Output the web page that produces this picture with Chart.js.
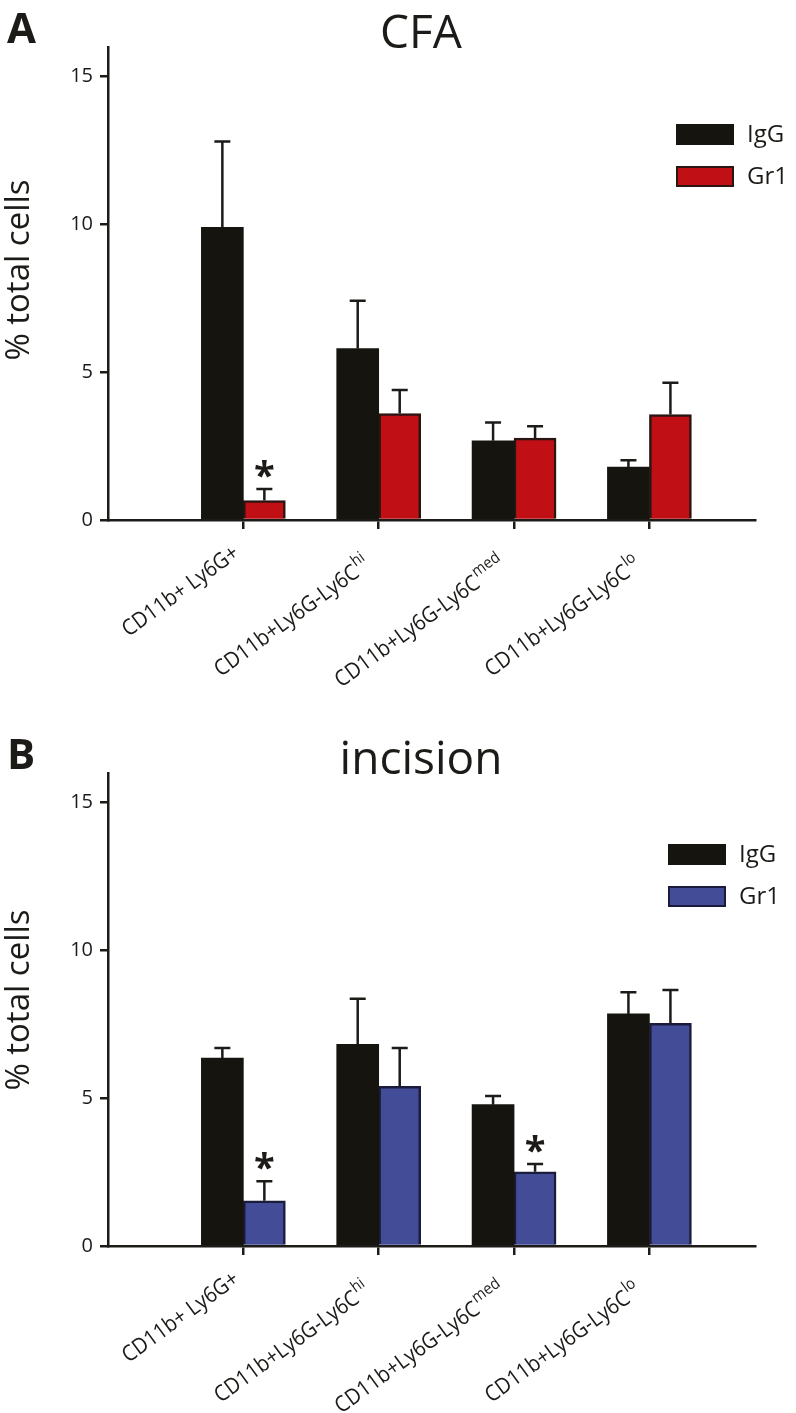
<!DOCTYPE html>
<html>
<head>
<meta charset="utf-8">
<script src="https://cdn.jsdelivr.net/npm/chart.js@4.4.1/dist/chart.umd.min.js"></script>
<style>
    body { margin: 0; background: #fff; }
    .panel { position: relative; width: 796px; }
    #panelA { height: 726px; }
    #panelB { height: 687px; }
</style>
</head>
<body>
<div class="panel" id="panelA"><canvas id="chartA"></canvas></div>
<div class="panel" id="panelB"><canvas id="chartB"></canvas></div>
<script>
// categories (x axis), superscript part of each label
const categories = ["CD11b+ Ly6G+", "CD11b+Ly6G-Ly6C", "CD11b+Ly6G-Ly6C", "CD11b+Ly6G-Ly6C"];
const categorySup = ["", "hi", "med", "lo"];
const seriesNames = ["IgG", "Gr1"];
const yTickValues = [0, 5, 10, 15];

// panel A - CFA (mean, upper SEM)
const cfaIgG = [9.9, 5.8, 2.68, 1.79];
const cfaIgGErr = [2.9, 1.62, 0.62, 0.23];
const cfaGr1 = [0.66, 3.6, 2.77, 3.57];
const cfaGr1Err = [0.39, 0.8, 0.4, 1.07];
const cfaSig = [true, false, false, false];

// panel B - incision
const incIgG = [6.36, 6.82, 4.78, 7.85];
const incIgGErr = [0.34, 1.54, 0.29, 0.73];
const incGr1 = [1.53, 5.4, 2.51, 7.53];
const incGr1Err = [0.66, 1.3, 0.26, 1.13];
const incSig = [true, false, true, false];

const FONT = '"Open Sans", "Noto Sans", sans-serif';
const INK = "#1d1b18";
const LABEL_ANGLE = 36;
const LABEL_SQUEEZE = 0.92; // reference font is narrower than Open Sans

// error bars + significance stars, drawn on top of the bars
const errorBarPlugin = {
    id: "errorBars",
    afterDatasetsDraw(chart) {
        const ctx = chart.ctx;
        const yScale = chart.scales.y;
        chart.data.datasets.forEach((ds, d) => {
            const meta = chart.getDatasetMeta(d);
            meta.data.forEach((bar, i) => {
                const top = yScale.getPixelForValue(ds.data[i].y + ds.errors[i]);
                ctx.save();
                ctx.strokeStyle = INK;
                ctx.lineWidth = 2.5;
                ctx.beginPath();
                ctx.moveTo(bar.x, bar.y);
                ctx.lineTo(bar.x, top);
                ctx.moveTo(bar.x - 8, top);
                ctx.lineTo(bar.x + 8, top);
                ctx.stroke();
                if (ds.sig && ds.sig[i]) {
                    ctx.font = "bold 38px " + FONT;
                    ctx.fillStyle = INK;
                    ctx.textAlign = "center";
                    ctx.textBaseline = "alphabetic";
                    const m = ctx.measureText("*");
                    const cy = top - 20;
                    const off = (m.actualBoundingBoxAscent - m.actualBoundingBoxDescent) / 2;
                    ctx.fillText("*", bar.x, cy + off);
                }
                ctx.restore();
            });
        });
    }
};

// titles, legend, axis title and rotated x labels
const decorPlugin = {
    id: "decor",
    afterDraw(chart) {
        const ctx = chart.ctx;
        const o = chart.options.plugins.decor;
        ctx.save();
        ctx.fillStyle = INK;

        ctx.font = "bold 42px " + FONT;
        ctx.textAlign = "left";
        ctx.textBaseline = "alphabetic";
        ctx.fillText(o.letter, 7, 43);

        ctx.font = "46px " + FONT;
        ctx.textAlign = "center";
        ctx.fillText(o.title, 421, 48);

        // y axis title
        ctx.save();
        ctx.translate(20, o.yTitleY);
        ctx.rotate(-Math.PI / 2);
        ctx.font = "33px " + FONT;
        ctx.textAlign = "center";
        ctx.textBaseline = "middle";
        ctx.fillText("% total cells", 0, 0);
        ctx.restore();

        // legend
        chart.data.datasets.forEach((ds, d) => {
            const y = o.legendY + d * 42;
            ctx.fillStyle = ds.backgroundColor;
            ctx.fillRect(o.legendX, y, 58, 21);
            if (ds.borderWidth) {
                ctx.strokeStyle = ds.borderColor;
                ctx.lineWidth = 2;
                ctx.strokeRect(o.legendX + 1, y + 1, 56, 19);
            }
            ctx.fillStyle = INK;
            ctx.font = "24px " + FONT;
            ctx.textAlign = "left";
            ctx.textBaseline = "middle";
            ctx.fillText(ds.label, o.legendX + 71, y + 11);
        });

        // x labels with superscripts; baseline end sits just under the tick
        const xs = chart.scales.x;
        const base = chart.chartArea.bottom;
        categories.forEach((txt, i) => {
            const px = xs.getPixelForValue(i + 1);
            const sup = categorySup[i];
            ctx.save();
            ctx.translate(px - 3, base + 36);
            ctx.rotate(-LABEL_ANGLE * Math.PI / 180);
            ctx.scale(LABEL_SQUEEZE, 1);
            ctx.fillStyle = INK;
            ctx.textAlign = "right";
            ctx.textBaseline = "alphabetic";
            if (sup) {
                const endX = -10 / LABEL_SQUEEZE;
                const baseY = 7;
                ctx.font = "16px " + FONT;
                const supW = ctx.measureText(sup).width;
                ctx.fillText(sup, endX, baseY - 10);
                ctx.font = "22px " + FONT;
                ctx.fillText(txt, endX - supW - 1, baseY);
            } else {
                ctx.font = "22px " + FONT;
                ctx.fillText(txt, 0, 0);
            }
            ctx.restore();
        });
        ctx.restore();
    }
};

function makeChart(canvasId, cfg) {
    const axisHeight = cfg.height - 520;
    const datasets = [
        {
            label: seriesNames[0],
            data: cfg.igg.map((v, i) => ({x: i + 1, y: v})),
            errors: cfg.iggErr,
            backgroundColor: "#15140f",
            borderColor: "#15140f",
            borderWidth: 0,
            barThickness: 42
        },
        {
            label: seriesNames[1],
            data: cfg.gr1.map((v, i) => ({x: i + 1, y: v})),
            errors: cfg.gr1Err,
            sig: cfg.sig,
            backgroundColor: cfg.gr1Color,
            borderColor: cfg.gr1Border,
            borderWidth: 2.5,
            barThickness: 42
        }
    ];
    return new Chart(document.getElementById(canvasId), {
        type: "bar",
        data: {datasets: datasets},
        options: {
            responsive: true,
            maintainAspectRatio: false,
            animation: false,
            layout: {padding: {top: 47, right: 41, left: 0, bottom: 0}},
            scales: {
                x: {
                    type: "linear",
                    min: 0,
                    max: 4.78,
                    offset: false,
                    afterBuildTicks: s => { s.ticks = [1, 2, 3, 4].map(v => ({value: v})); },
                    afterFit: s => { s.height = axisHeight; },
                    ticks: {display: false},
                    grid: {offset: false, drawOnChartArea: false, drawTicks: true, tickLength: 9, color: INK, lineWidth: 2.5},
                    border: {color: INK, width: 2.5}
                },
                y: {
                    min: 0,
                    max: 16,
                    afterBuildTicks: s => { s.ticks = yTickValues.map(v => ({value: v})); },
                    afterFit: s => { s.width = 108; },
                    ticks: {color: INK, font: {family: FONT, size: 20}, padding: 7},
                    grid: {drawOnChartArea: false, tickLength: 8, color: INK, lineWidth: 2.5},
                    border: {color: INK, width: 2.5}
                }
            },
            plugins: {
                legend: {display: false},
                tooltip: {enabled: false},
                decor: cfg.decor
            }
        },
        plugins: [errorBarPlugin, decorPlugin]
    });
}

makeChart("chartA", {
    height: 726,
    igg: cfaIgG, iggErr: cfaIgGErr,
    gr1: cfaGr1, gr1Err: cfaGr1Err, sig: cfaSig,
    gr1Color: "#c10f16", gr1Border: "#2a1512",
    decor: {letter: "A", title: "CFA", yTitleY: 270, legendX: 676, legendY: 124}
});

makeChart("chartB", {
    height: 687,
    igg: incIgG, iggErr: incIgGErr,
    gr1: incGr1, gr1Err: incGr1Err, sig: incSig,
    gr1Color: "#434c97", gr1Border: "#1b1c3b",
    decor: {letter: "B", title: "incision", yTitleY: 274, legendX: 668, legendY: 118}
});
</script>
</body>
</html>
